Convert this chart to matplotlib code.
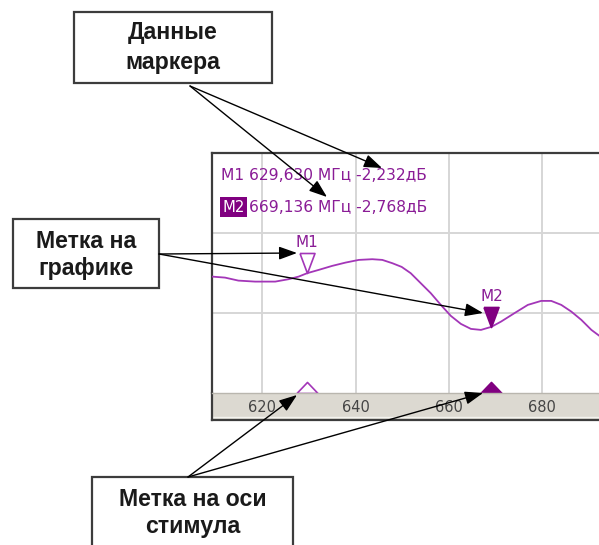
import matplotlib
matplotlib.use("Agg")
import matplotlib.pyplot as plt
from matplotlib.patches import Rectangle

# ---------------- data ----------------
freq_mhz = [609.25, 612.04, 614.90, 618.49, 622.80, 625.66, 627.81, 629.63, 632.11,
            634.99, 637.85, 640.71, 643.59, 645.74, 647.89, 649.89, 651.83, 653.98,
            656.13, 658.28, 660.43, 662.58, 664.73, 666.88, 669.136, 671.18, 674.04,
            676.92, 679.78, 681.94, 684.09, 686.24, 688.39, 690.54, 692.47]
gain_db = [-2.266, -2.276, -2.306, -2.316, -2.316, -2.292, -2.266, -2.232, -2.199,
           -2.159, -2.126, -2.099, -2.092, -2.099, -2.132, -2.169, -2.232, -2.332,
           -2.432, -2.549, -2.659, -2.739, -2.789, -2.799, -2.768, -2.716, -2.632,
           -2.549, -2.509, -2.509, -2.549, -2.616, -2.699, -2.799, -2.866]

marker_names = ["M1", "M2"]
marker_freq = [629.630, 669.136]
marker_db = [-2.232, -2.768]

x_ticks = [620, 640, 660, 680]
x_tick_labels = ["620", "640", "660", "680"]
y_grid = [-1.83, -2.63]

callout_texts = [["Данные", "маркера"], ["Метка на", "графике"], ["Метка на оси", "стимула"]]

# ---------------- style ----------------
W, H = 599, 545
CURVE = "#a336b8"
MTEXT = "#8a1c96"
MFILL = "#800080"
FRAME = "#3c3c3c"
XLIM = (609.25, 692.6)

fig = plt.figure(figsize=(W / 100, H / 100), dpi=100)
fig.patch.set_facecolor("white")


def rect(l, t, r, b):
    return [l / W, 1 - b / H, (r - l) / W, (b - t) / H]


ax = fig.add_axes(rect(212, 153, 601, 393))
axb = fig.add_axes(rect(212, 393, 601, 420))

ax.set_xlim(*XLIM)
ax.set_ylim(-3.43, -1.03)
ax.set_xticks(x_ticks)
ax.set_yticks(y_grid)
ax.grid(True, color="#d6d6d6", lw=1.4)
ax.set_axisbelow(True)
ax.tick_params(length=0, labelbottom=False, labelleft=False)
for s in ("right", "bottom"):
    ax.spines[s].set_visible(False)
for s in ("left", "top"):
    ax.spines[s].set_color(FRAME)
    ax.spines[s].set_linewidth(1.6)

ax.plot(freq_mhz, gain_db, color=CURVE, lw=1.3, zorder=3)

# markers on trace (tip at data point)
down_tri = [(-0.375, 1.0), (0.375, 1.0), (0.0, 0.0), (-0.375, 1.0)]
up_tri = [(-1.0, 0.0), (1.0, 0.0), (0.0, 1.05), (-1.0, 0.0)]
for i, (name, f, v) in enumerate(zip(marker_names, marker_freq, marker_db)):
    filled = i == 1
    ax.plot([f], [v], marker=down_tri, ms=28.8, ls="none",
            mfc=MFILL if filled else "white", mec=MFILL if filled else CURVE,
            mew=1.2, zorder=5, clip_on=False)
    ax.annotate(name, xy=(f, v), xytext=(0, 22), textcoords="offset points",
                ha="center", va="center", fontsize=11, color=MTEXT, zorder=6)
    ax.plot([f], [ax.get_ylim()[0]], marker=up_tri, ms=15.9, ls="none",
            mfc=MFILL if filled else "white", mec=MFILL if filled else CURVE,
            mew=1.2, zorder=5, clip_on=False)

# stimulus axis band
axb.set_xlim(*XLIM)
axb.set_facecolor("#dcd9d1")
axb.set_xticks([])
axb.set_yticks([])
axb.set_ylim(0, 1)
axb.spines["right"].set_visible(False)
axb.spines["top"].set_color("#b9b6ae")
axb.spines["top"].set_linewidth(1.0)
for s in ("left", "bottom"):
    axb.spines[s].set_color(FRAME)
    axb.spines[s].set_linewidth(1.6)
axb.axhline(0.12, color="#f4f3ef", lw=1.0)
for f, lab in zip(x_ticks, x_tick_labels):
    axb.text(f, 0.48, lab, transform=axb.get_xaxis_transform(), ha="center",
             va="center", fontsize=10.5, color="#454545")

# ---------------- overlay (callouts) ----------------
ov = fig.add_axes([0, 0, 1, 1], zorder=10)
ov.set_xlim(0, W)
ov.set_ylim(H, 0)
ov.axis("off")
ov.patch.set_visible(False)


def fmt(x):
    return f"{x:.3f}".replace(".", ",")


RO = 11.2
ov.text(221, 175, f"{marker_names[0]} {fmt(marker_freq[0])} МГц {fmt(marker_db[0])}дБ",
        ha="left", va="center", fontsize=RO, color=MTEXT)
ov.text(222, 207, marker_names[1], ha="left", va="center", fontsize=RO - 0.5, color="white",
        bbox=dict(boxstyle="square,pad=0.15", fc=MFILL, ec="none"))
ov.text(249, 207, f"{fmt(marker_freq[1])} МГц {fmt(marker_db[1])}дБ", ha="left",
        va="center", fontsize=RO, color=MTEXT)

boxes = [(74, 12, 272, 83), (13, 219, 159, 288), (92, 477, 293, 570)]
text_rows = [(33, 62), (242, 268), (499, 527)]
for (l, t, r, b), rows, lines in zip(boxes, text_rows, callout_texts):
    ov.add_patch(Rectangle((l, t), r - l, b - t, fc="white", ec=FRAME, lw=1.6, zorder=2))
    for y, line in zip(rows, lines):
        ov.text((l + r) / 2, y, line, ha="center", va="center", fontsize=16.7,
                fontweight="bold", family="Liberation Sans", color="#1a1a1a", zorder=3)

arrows = [((190, 86), (382, 168)), ((190, 86), (327, 197)),
          ((159, 254), (297, 253)), ((159, 254), (483, 313)),
          ((188, 477), (297, 395)), ((188, 477), (483, 393))]
for src, tip in arrows:
    ov.annotate("", xy=tip, xytext=src,
                arrowprops=dict(arrowstyle="-|>,head_length=1.1,head_width=0.4",
                                mutation_scale=10, lw=1.0, color="black",
                                shrinkA=0, shrinkB=0), zorder=4)

fig.savefig("out.png", dpi=100)
